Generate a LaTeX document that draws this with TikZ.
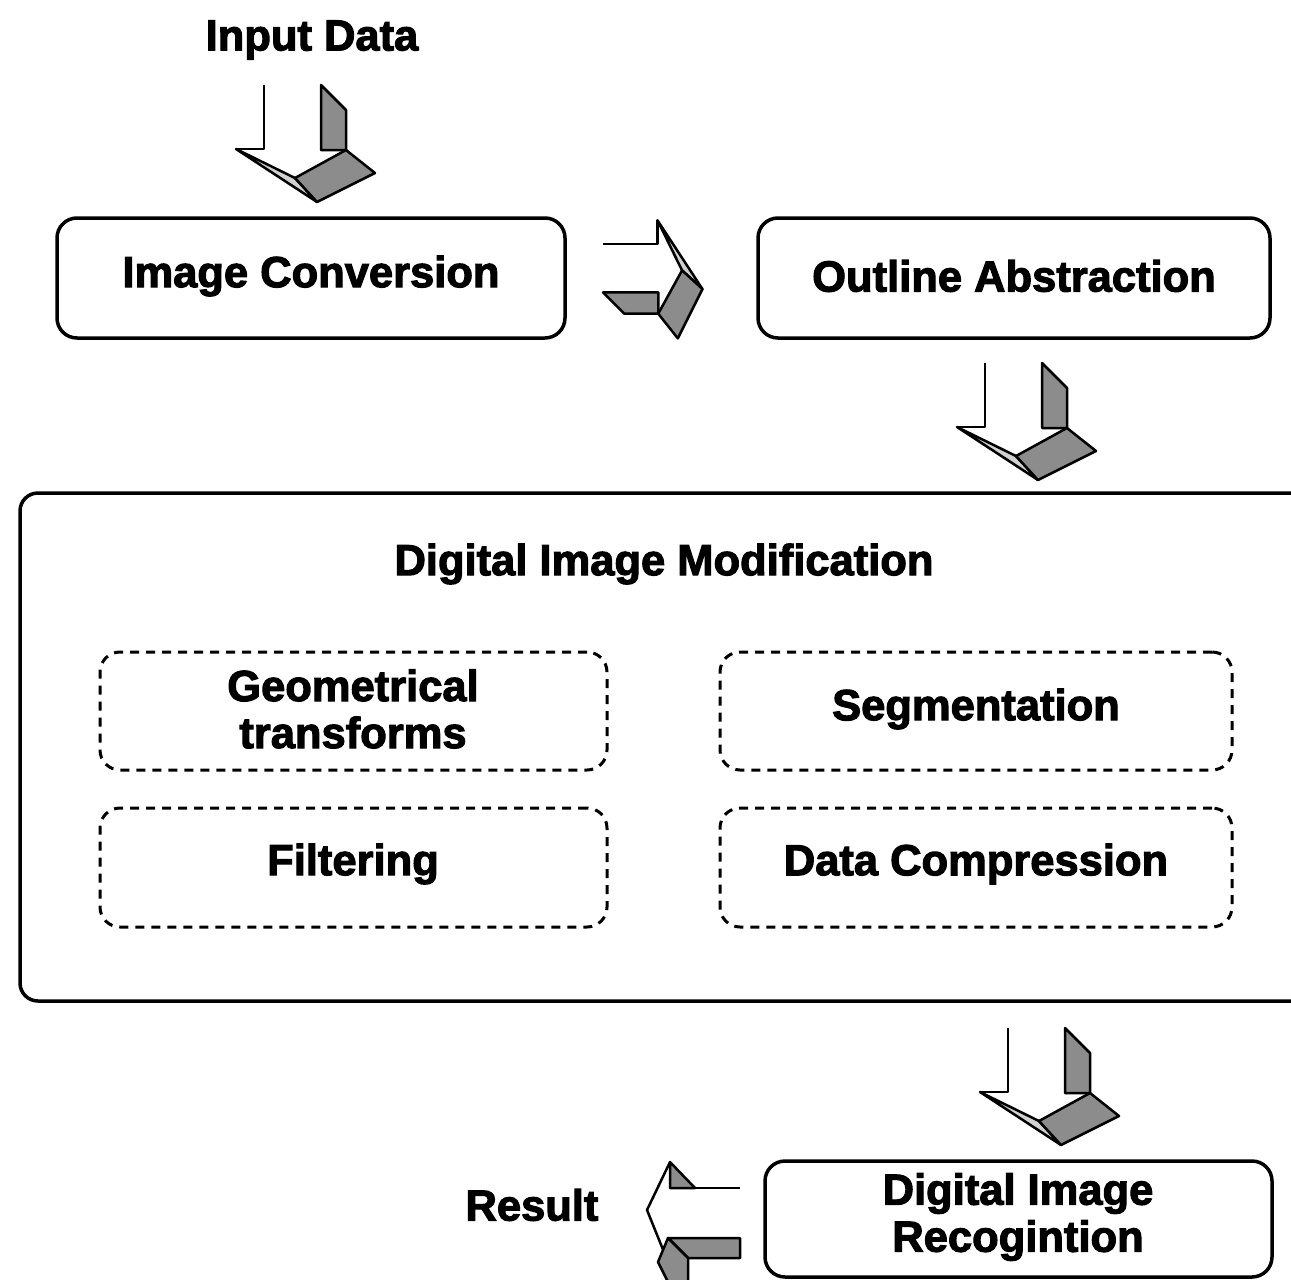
\documentclass[tikz,border=0pt]{standalone}
\usepackage{fontspec}
\setmainfont{Liberation Sans}[BoldFeatures={FakeBold=2.5}]
\newcommand\blockarrowdown{%
  \filldraw[fill=black!18] (-28,64) -- (53,117) -- (31,93) -- cycle;
  \filldraw[fill=black!45] (57,0) -- (82,25) -- (82,65) -- (57,65) -- cycle;
  \filldraw[fill=black!45] (31,93) -- (82,65) -- (111,88) -- (53,117) -- cycle;
  \draw (0,0) -- (0,64) -- (-28,64);
}
\begin{document}
\begin{tikzpicture}[x=1pt,y=-1pt,
  lbl/.style={font=\fontsize{43.5}{47}\selectfont\bfseries, align=center, inner sep=0pt},
  solidbox/.style={draw, line width=3.5pt, rounded corners=20pt, inner sep=0pt},
  dashbox/.style={draw, line width=3pt, rounded corners=20pt, dash pattern=on 9pt off 7pt, inner sep=0pt},
  arrowpart/.style={line width=2.5pt, line join=round}
]
\useasboundingbox (0,0) rectangle (1291,1280);
\clip (0,0) rectangle (1291,1280);

% texts
\node[lbl] (input) at (312,40) {Input Data};

% boxes
\node[solidbox, minimum width=508pt, minimum height=120pt] (conv) at (311,278) {};
\node[lbl] (convt) at (311,276) {Image Conversion};
\node[solidbox, minimum width=512pt, minimum height=120pt] (outl) at (1014,278) {};
\node[lbl] (outlt) at (1014,276) {Outline Abstraction};

\node[solidbox, rounded corners=18pt, minimum width=1300pt, minimum height=508pt] (mod) at (670,747) {};
\node[lbl] (modt) at (664,564) {Digital Image Modification};

\node[dashbox, minimum width=507pt, minimum height=118pt] (geo) at (353.5,711) {};
\node[lbl] (geot) at (353,709) {Geometrical\\transforms};
\node[dashbox, minimum width=512pt, minimum height=118pt] (seg) at (976,711) {};
\node[lbl] (segt) at (976,709) {Segmentation};
\node[dashbox, minimum width=507pt, minimum height=119pt] (fil) at (353.5,867.5) {};
\node[lbl] (filt) at (353,864) {Filtering};
\node[dashbox, minimum width=512pt, minimum height=119pt] (comp) at (976,867.5) {};
\node[lbl] (compt) at (976,864) {Data Compression};

\node[solidbox, minimum width=507pt, minimum height=116pt] (rec) at (1018.5,1219) {};
\node[lbl] (rect) at (1018,1217) {Digital Image\\Recogintion};

\node[lbl] (res) at (532,1205) {Result};

% block arrows
\begin{scope}[arrowpart, shift={(264,85)}]
  \blockarrowdown
\end{scope}
\begin{scope}[arrowpart, shift={(985,363)}]
  \blockarrowdown
\end{scope}
\begin{scope}[arrowpart, shift={(1008,1028)}]
  \blockarrowdown
\end{scope}
\begin{scope}[arrowpart, shift={(603,244)}, cm={0,-0.85,-0.85,0,(0,0)}]
  \blockarrowdown
\end{scope}

% left arrow (Result)
\begin{scope}[arrowpart]
  \filldraw[fill=black!45] (670,1162) -- (695,1188) -- (670,1188) -- cycle;
  \draw (740,1188) -- (695,1188);
  \draw (670,1162) -- (647,1210) -- (668,1262);
  \filldraw[fill=black!45] (668,1238) -- (740,1238) -- (740,1258) -- (688,1258) -- cycle;
  \filldraw[fill=black!45] (668,1238) -- (688,1258) -- (688,1282) -- (668,1282) -- (658,1262) -- cycle;
\end{scope}
\end{tikzpicture}
\end{document}
